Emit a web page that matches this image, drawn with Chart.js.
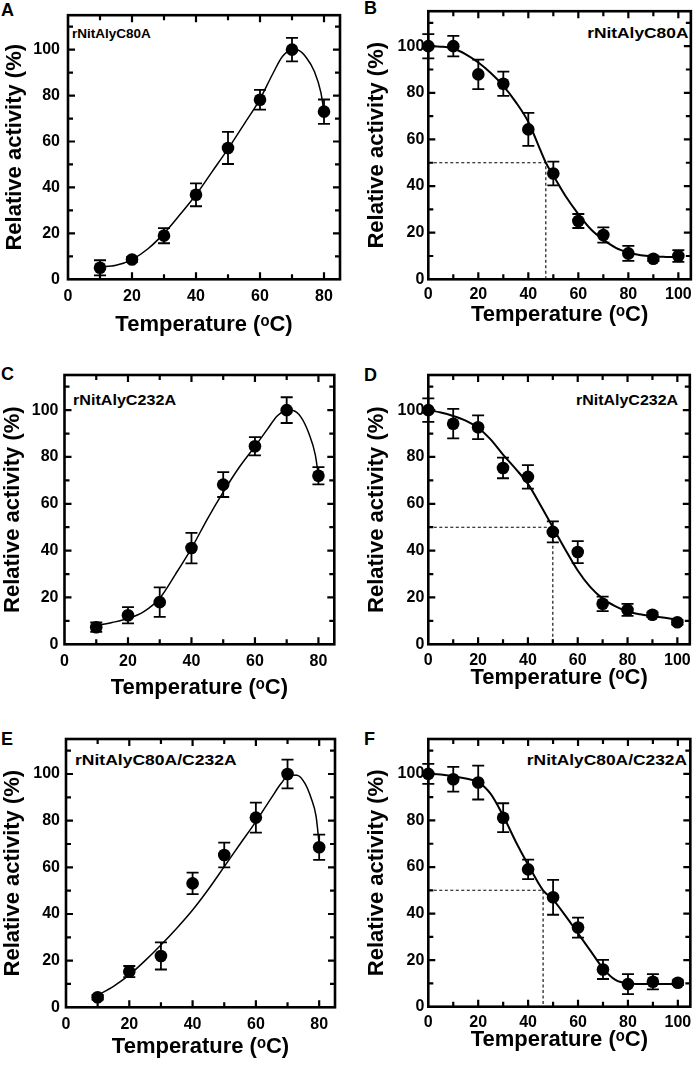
<!DOCTYPE html>
<html><head><meta charset="utf-8">
<script src="https://cdn.jsdelivr.net/npm/chart.js@4.4.0/dist/chart.umd.min.js"></script>
<style>
html,body{margin:0;padding:0;background:#fff;}
body{width:700px;height:1066px;position:relative;overflow:hidden;font-family:"Liberation Sans",Arial,Helvetica,sans-serif;}
canvas{position:absolute;}
.lbl{position:absolute;font-weight:bold;color:#000;white-space:nowrap;line-height:1;}
.sl{transform-origin:0 0;}
.sr{transform-origin:100% 0;}
</style></head><body>
<div class="lbl" style="left:1px;top:0.7px;font-size:18px">A</div>
<div class="lbl" style="left:364px;top:-1.3px;font-size:18px">B</div>
<div class="lbl" style="left:1px;top:364.7px;font-size:18px">C</div>
<div class="lbl" style="left:364px;top:365.7px;font-size:18px">D</div>
<div class="lbl" style="left:1px;top:729.7px;font-size:18px">E</div>
<div class="lbl" style="left:364px;top:729.7px;font-size:18px">F</div>
<div class="lbl sl" style="left:72px;top:26.9px;font-size:13.5px">rNitAlyC80A</div>
<div class="lbl sr" style="right:12px;top:24.6px;font-size:15.5px;transform:scaleX(1.12)">rNitAlyC80A</div>
<div class="lbl sl" style="left:72.5px;top:391.9px;font-size:15.5px;transform:scaleX(1.04)">rNitAlyC232A</div>
<div class="lbl sr" style="right:22px;top:391.9px;font-size:15.5px;transform:scaleX(1.03)">rNitAlyC232A</div>
<div class="lbl sl" style="left:75px;top:751.9px;font-size:15.5px;transform:scaleX(1.13)">rNitAlyC80A/C232A</div>
<div class="lbl sr" style="right:13px;top:751.9px;font-size:15.5px;transform:scaleX(1.12)">rNitAlyC80A/C232A</div>
<script>
const FONT = '"Liberation Sans", Arial, Helvetica, sans-serif';
const X_TITLE = 'Temperature (\u1D52C)';
const Y_TITLE = 'Relative activity (%)';

// ---- Panel A: optimal temperature, rNitAlyC80A ----
const tempA = [10, 20, 30, 40, 50, 60, 70, 80];
const actA  = [5.0, 8.6, 19.0, 36.8, 57.2, 78.2, 100, 73.0];
const errA  = [3.3, 1.0, 3.3, 5.0, 7.0, 4.3, 5.1, 5.3];
const fitTA = [10, 15, 20, 25, 30, 35, 40, 45, 50, 55, 60, 64, 67, 70, 72, 74.5, 77, 79, 80];
const fitVA = [5.4, 6.1, 8.6, 13.3, 20, 28.2, 36.8, 46.8, 56.8, 67.5, 78.5, 89.5, 97, 100, 99.7, 96.5, 90.5, 81.5, 73];

// ---- Panel B: thermostability, rNitAlyC80A ----
const tempB = [0, 10, 20, 30, 40, 50, 60, 70, 80, 90, 100];
const actB  = [100, 100, 87.9, 83.9, 64.3, 45.4, 25.0, 19.0, 11.1, 8.8, 10.0];
const errB  = [5.2, 4.4, 6.3, 5.2, 7.1, 5.1, 3.0, 3.3, 3.2, 1.0, 2.5];
const fitTB = [0, 5, 10, 15, 20, 25, 30, 35, 40, 45, 47, 50, 55, 60, 65, 70, 75, 80, 85, 90, 95, 100];
const fitVB = [100, 99.8, 99, 96.5, 93, 88.5, 83, 76, 67.5, 55, 50, 44.5, 35.5, 28, 21.5, 17, 13.5, 11.5, 10.3, 9.8, 9.6, 9.5];
const halfB = 47;

// ---- Panel C: optimal temperature, rNitAlyC232A ----
const tempC = [10, 20, 30, 40, 50, 60, 70, 80];
const actC  = [7.3, 12.4, 18.0, 41.1, 68.2, 84.6, 100, 72.0];
const errC  = [2.0, 3.5, 6.3, 6.5, 5.3, 3.9, 5.5, 3.7];
const fitTC = [10, 15, 20, 25, 30, 35, 40, 45, 50, 55, 60, 64, 67, 70, 72, 74.5, 77, 79, 80];
const fitVC = [8, 9.3, 11, 14, 19.7, 30, 41, 53.5, 65, 75.5, 84.5, 92, 97.5, 100, 99.8, 97, 90, 81, 72];

// ---- Panel D: thermostability, rNitAlyC232A ----
const tempD = [0, 10, 20, 30, 40, 50, 60, 70, 80, 90, 100];
const actD  = [100, 94.2, 92.7, 75.3, 71.5, 48.0, 39.4, 17.3, 14.7, 12.6, 9.4];
const errD  = [5.0, 6.3, 5.1, 4.4, 5.0, 4.5, 4.7, 3.1, 2.6, 1.0, 1.0];
const fitTD = [0, 5, 10, 15, 20, 25, 30, 35, 40, 45, 50, 55, 60, 65, 70, 75, 80, 85, 90, 95, 100];
const fitVD = [100, 99, 97.5, 95.5, 92.5, 87.5, 81, 75, 68.5, 59.5, 50, 40.5, 31.5, 24.5, 19.5, 16.3, 14, 12.8, 12, 11.3, 10.6];
const halfD = 50;

// ---- Panel E: optimal temperature, rNitAlyC80A/C232A ----
const tempE = [10, 20, 30, 40, 50, 60, 70, 80];
const actE  = [4.3, 15.3, 22.0, 53.1, 65.3, 81.3, 100, 68.6];
const errE  = [1.0, 2.4, 5.8, 4.6, 5.3, 6.4, 6.2, 5.4];
const fitTE = [10, 15, 20, 25, 30, 35, 40, 45, 50, 55, 60, 65, 68, 70.5, 73, 75.5, 77.5, 79, 80];
const fitVE = [5.2, 9, 13.9, 20, 26.7, 33.9, 41.7, 50.6, 60.3, 70, 79.6, 90, 96, 99.6, 99.5, 96, 89.5, 82, 70];

// ---- Panel F: thermostability, rNitAlyC80A/C232A ----
const tempF = [0, 10, 20, 30, 40, 50, 60, 70, 80, 90, 100];
const actF  = [100, 97.7, 96.3, 81.2, 59.0, 47.0, 34.0, 16.0, 9.7, 10.7, 10.3];
const errF  = [4.3, 5.3, 7.3, 6.2, 4.2, 7.5, 4.3, 4.1, 4.3, 3.3, 1.0];
const fitTF = [0, 5, 10, 15, 20, 25, 30, 35, 40, 46, 50, 55, 60, 65, 70, 75, 80, 85, 90, 95, 100];
const fitVF = [100, 99.7, 99, 98, 96.5, 91.4, 82, 71, 61, 50, 46, 39, 31.5, 24, 16.5, 11.5, 10, 9.8, 9.8, 9.8, 9.8];
const halfF = 46;

// frame tick positions
const xTicks80  = [10, 20, 30, 40, 50, 60, 70, 80];
const xTicks100 = [10, 20, 30, 40, 50, 60, 70, 80, 90, 100];
const yTicks    = [10, 20, 30, 40, 50, 60, 70, 80, 90, 100, 110];

function framePlugin(p) {
  return {
    id: 'panelFrame',
    beforeDatasetsDraw(chart) {
      const {ctx, scales: {x, y}} = chart;
      ctx.save();
      ctx.strokeStyle = '#000';
      ctx.lineWidth = 1.8;
      ctx.beginPath();
      p.temps.forEach((t, i) => {
        const e = p.errs[i];
        const px = x.getPixelForValue(t);
        const y1 = y.getPixelForValue(p.vals[i] + e);
        const y2 = y.getPixelForValue(p.vals[i] - e);
        ctx.moveTo(px, y1); ctx.lineTo(px, y2);
        ctx.moveTo(px - 6, y1); ctx.lineTo(px + 6, y1);
        ctx.moveTo(px - 6, y2); ctx.lineTo(px + 6, y2);
      });
      ctx.stroke();
      ctx.restore();
    },
    afterDraw(chart) {
      const {ctx, chartArea: a, scales: {x, y}} = chart;
      ctx.save();
      ctx.strokeStyle = '#000';
      ctx.lineWidth = 2.2;
      ctx.beginPath();
      p.xTicks.forEach(v => {
        const px = x.getPixelForValue(v);
        const L = v % 20 === 0 ? 7 : 5;
        ctx.moveTo(px, a.bottom); ctx.lineTo(px, a.bottom - L);
        ctx.moveTo(px, a.top); ctx.lineTo(px, a.top + L);
      });
      p.yTicks.forEach(v => {
        const py = y.getPixelForValue(v);
        const L = v % 20 === 0 ? 7 : 5;
        ctx.moveTo(a.left, py); ctx.lineTo(a.left + L, py);
        ctx.moveTo(a.right, py); ctx.lineTo(a.right - L, py);
      });
      ctx.stroke();
      ctx.lineWidth = 2.6;
      ctx.strokeRect(a.left, a.top, a.right - a.left, a.bottom - a.top);
      ctx.restore();
    }
  };
}

function makePanel(p) {
  const W = 350;
  const pt = p.t - p.top;
  const pr = p.left + W - p.r;
  const yW = p.l - p.left;
  const H = Math.round(p.b - p.top + p.d + 9.9 + 1);
  const xH = H - (p.b - p.top);
  const cv = document.createElement('canvas');
  cv.width = W; cv.height = H;
  cv.style.left = p.left + 'px'; cv.style.top = p.top + 'px';
  cv.style.width = W + 'px'; cv.style.height = H + 'px';
  document.body.appendChild(cv);
  const pts = p.temps.map((t, i) => ({x: t, y: p.vals[i]}));
  const fit = p.fitT.map((t, i) => ({x: t, y: p.fitV[i]}));
  const datasets = [
    {data: pts, showLine: false, pointRadius: 6.3, pointHoverRadius: 6.3,
     pointBackgroundColor: '#000', pointBorderColor: '#000', pointBorderWidth: 0, clip: false},
    {data: fit, showLine: true, pointRadius: 0, borderColor: '#000', borderWidth: p.lw,
     cubicInterpolationMode: 'monotone', fill: false}
  ];
  if (p.half !== undefined) {
    datasets.push({data: [{x: 0, y: 50}, {x: p.half, y: 50}, {x: p.half, y: 0}],
      showLine: true, pointRadius: 0, borderColor: '#000', borderWidth: 1.1,
      borderDash: [3, 2.5], tension: 0, fill: false});
  }
  new Chart(cv, {
    type: 'scatter',
    data: {datasets},
    plugins: [framePlugin(p)],
    options: {
      responsive: false, animation: false, devicePixelRatio: 1,
      layout: {padding: {left: 0, top: pt, right: pr, bottom: 0}},
      plugins: {legend: {display: false}, tooltip: {enabled: false}},
      scales: {
        x: {type: 'linear', min: 0, max: p.xMax,
            grid: {display: false, drawTicks: false, tickLength: 0}, border: {display: false},
            ticks: {stepSize: 20, includeBounds: false, autoSkip: false, maxRotation: 0, minRotation: 0,
                    padding: p.xTickPad, color: '#000', font: {family: FONT, size: 16, weight: 'bold', lineHeight: 0.9}},
            title: {display: true, text: X_TITLE, color: '#000',
                    font: {family: FONT, size: 22, weight: 'bold', lineHeight: 0.9}, padding: {top: 0, bottom: 1}},
            afterFit(s) { s.height = xH; }},
        y: {type: 'linear', min: 0, max: 115,
            grid: {display: false, drawTicks: false, tickLength: 0}, border: {display: false},
            ticks: {stepSize: 20, includeBounds: false, autoSkip: false,
                    padding: p.yTickPad, color: '#000', font: {family: FONT, size: 16, weight: 'bold', lineHeight: 0.9}},
            title: {display: true, text: Y_TITLE, color: '#000',
                    font: {family: FONT, size: 22, weight: 'bold', lineHeight: 0.9}, padding: {top: p.yTitlePad, bottom: 0}},
            afterFit(s) { s.width = yW; }}
      }
    }
  });
}

makePanel({left: 0, top: 0, l: 68, t: 10, r: 340, b: 279.3, d: 46, xMax: 85,
  xTickPad: 9.8, yTickPad: 8, yTitlePad: 5.1, lw: 1.5,
  temps: tempA, vals: actA, errs: errA, fitT: fitTA, fitV: fitVA, xTicks: xTicks80, yTicks});
makePanel({left: 350, top: 0, l: 428.3, t: 10, r: 697, b: 279.3, d: 36, xMax: 105,
  xTickPad: 8, yTickPad: 4, yTitlePad: 17.1, lw: 2, half: halfB,
  temps: tempB, vals: actB, errs: errB, fitT: fitTB, fitV: fitVB, xTicks: xTicks100, yTicks});
makePanel({left: 0, top: 340, l: 64.5, t: 375, r: 334.3, b: 644.3, d: 44, xMax: 85,
  xTickPad: 10, yTickPad: 6, yTitlePad: 3.1, lw: 1.5,
  temps: tempC, vals: actC, errs: errC, fitT: fitTC, fitV: fitVC, xTicks: xTicks80, yTicks});
makePanel({left: 350, top: 340, l: 428.3, t: 375, r: 697, b: 644.3, d: 33.5, xMax: 105,
  xTickPad: 9, yTickPad: 4, yTitlePad: 17.1, lw: 2, half: halfD,
  temps: tempD, vals: actD, errs: errD, fitT: fitTD, fitV: fitVD, xTicks: xTicks100, yTicks});
makePanel({left: 0, top: 700, l: 66, t: 739, r: 335, b: 1007.3, d: 40, xMax: 85,
  xTickPad: 9.8, yTickPad: 6, yTitlePad: 3.1, lw: 1.5,
  temps: tempE, vals: actE, errs: errE, fitT: fitTE, fitV: fitVE, xTicks: xTicks80, yTicks});
makePanel({left: 350, top: 700, l: 428.3, t: 739, r: 697, b: 1006.7, d: 33.5, xMax: 105,
  xTickPad: 8.5, yTickPad: 4, yTitlePad: 17.1, lw: 2, half: halfF,
  temps: tempF, vals: actF, errs: errF, fitT: fitTF, fitV: fitVF, xTicks: xTicks100, yTicks});
</script>
</body></html>
